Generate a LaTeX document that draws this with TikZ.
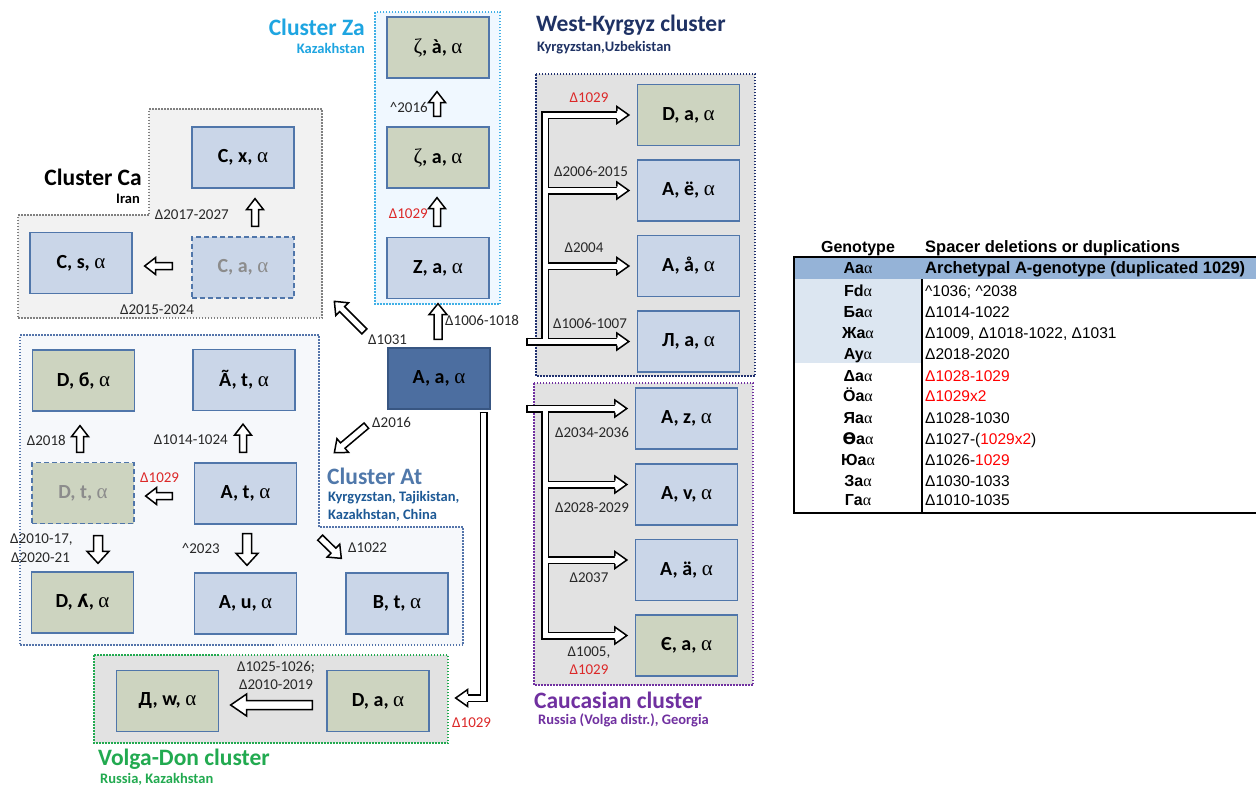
\documentclass[tikz,border=0pt]{standalone}
\usepackage{fontspec}
\setmainfont{Carlito}
\newfontfamily\arialf{Liberation Sans}
\newfontfamily\serf{Liberation Serif}
\newfontfamily\djv{DejaVu Sans}
\usetikzlibrary{calc}
\newcommand\al{{\serf\mdseries\fontsize{21}{22}\selectfont α}}
\newcommand\tal{{\serf\mdseries α}}
\newcommand\zet{{\serf\mdseries\fontsize{21}{22}\selectfont ζ}}
\newcommand\crt{\textasciicircum}
\definecolor{bluef}{RGB}{202,214,232}
\definecolor{greenf}{RGB}{205,212,192}
\definecolor{nodeb}{RGB}{80,118,170}
\definecolor{centf}{RGB}{76,110,160}
\definecolor{centb}{RGB}{56,86,130}
\definecolor{dimtext}{RGB}{140,140,140}
\definecolor{labc}{RGB}{40,40,40}
\definecolor{redl}{RGB}{220,40,40}
\definecolor{cafill}{RGB}{242,242,242}
\definecolor{caline}{RGB}{128,128,128}
\definecolor{zafill}{RGB}{240,248,255}
\definecolor{zaline}{RGB}{64,176,230}
\definecolor{atfill}{RGB}{246,248,251}
\definecolor{atline}{RGB}{84,116,170}
\definecolor{grayfill}{RGB}{226,226,226}
\definecolor{wkline}{RGB}{32,48,110}
\definecolor{ccline}{RGB}{112,48,160}
\definecolor{vdline}{RGB}{34,170,80}
\definecolor{zatitle}{RGB}{30,165,225}
\definecolor{attitle}{RGB}{80,120,170}
\definecolor{atsub}{RGB}{30,90,150}
\definecolor{wktitle}{RGB}{31,50,100}
\definecolor{tblhead}{RGB}{149,179,215}
\definecolor{tblblue}{RGB}{220,230,241}
\definecolor{tred}{RGB}{255,0,0}
% block arrow: shaft half-width, head half-width, head length, start, end
\newcommand\blockarrow[5]{%
  \draw[barrow] let \p1=(#4), \p2=(#5), \n1={atan2(\y2-\y1,\x2-\x1)}, \n2={veclen(\x2-\x1,\y2-\y1)} in
  [shift={(\p1)}, rotate=\n1] (0,-#1) -- (\n2-#3,-#1) -- (\n2-#3,-#2) -- (\n2,0) -- (\n2-#3,#2) -- (\n2-#3,#1) -- (0,#1) -- cycle;}
\newcommand\headR[1]{\filldraw[headst] (#1) ++(-12,-4) -- ++(0,-4.5) -- ++(12,8.5) -- ++(-12,8.5) -- ++(0,-4.5);}
\newcommand\headL[1]{\filldraw[headst] (#1) ++(12,-4) -- ++(0,-4.5) -- ++(-12,8.5) -- ++(12,8.5) -- ++(0,-4.5);}
\begin{document}
\begin{tikzpicture}[x=1pt,y=-1pt,
 gnode/.style={draw=nodeb, line width=1.3pt, minimum width=102pt, minimum height=61pt, inner sep=0pt, font=\fontsize{20}{22}\selectfont\bfseries},
 bbox/.style={gnode, fill=bluef},
 gbox/.style={gnode, fill=greenf},
 dbox/.style={dash pattern=on 5pt off 3pt, text=dimtext},
 cbox/.style={gnode, fill=centf, draw=centb},
 elab/.style={font=\fontsize{15}{17}\selectfont, text=labc, inner sep=0pt},
 rlab/.style={elab, text=redl},
 ctitle/.style={font=\fontsize{23.5}{25}\selectfont\bfseries, inner sep=0pt},
 csub/.style={font=\fontsize{14.5}{16}\selectfont\bfseries, inner sep=0pt},
 clus/.style={line width=1.5pt, dash pattern=on 1.5pt off 1.5pt},
 barrow/.style={draw=black, fill=white, line width=1.5pt, line join=miter},
 dline/.style={draw=black, double=white, double distance=5pt, line width=1.5pt, line join=miter},
 headst/.style={draw=black, fill=white, line width=1.5pt, line join=miter},
 tcell/.style={font=\arialf\fontsize{15.5}{17}\selectfont, inner sep=0pt, anchor=base west},
 tbold/.style={tcell, font=\arialf\fontsize{16.5}{18}\selectfont\bfseries},
 tgen/.style={font=\arialf\fontsize{16}{18}\selectfont\bfseries, inner sep=0pt, anchor=base},
]
\fill[white] (0,0) rectangle (1256,788);
\useasboundingbox (0,0) rectangle (1256,788);

% ---------- cluster backgrounds ----------
\draw[clus, draw=caline, fill=cafill] (149,109) -- (322,109) -- (322,318) -- (18,318) -- (18,215) -- (149,215) -- cycle;
\draw[clus, draw=zaline, fill=zafill] (375,12) rectangle (500,304);
\draw[clus, draw=atline, fill=atfill] (20,335) -- (319,335) -- (319,527) -- (463,527) -- (463,645) -- (20,645) -- cycle;
\draw[clus, draw=wkline, fill=grayfill] (536,74) rectangle (755,376);
\draw[clus, draw=ccline, fill=grayfill] (534,383) rectangle (753,685);
\draw[clus, draw=vdline, fill=grayfill] (94,655) rectangle (448,743);

% ---------- nodes ----------
\node[bbox] (cx) at (243,157.5) {C, x, \al};
\node[bbox] (cs) at (81,263) {C, s, \al};
\node[bbox, dbox] (ca) at (243,267.5) {C, a, \al};

\node[gbox] (zaa) at (438,47.5) {\zet, à, \al};
\node[gbox] (za) at (438,157.5) {\zet, a, \al};
\node[bbox] (Za) at (438,268) {Z, a, \al};

\node[cbox] (A) at (439,378.5) {A, a, \al};

\node[gbox] (db) at (83.5,380.5) {D, б, \al};
\node[bbox] (At) at (244,380) {Ã, t, \al};
\node[gbox, dbox] (dt) at (83,493) {D, t, \al};
\node[bbox] (at) at (245.5,493.5) {A, t, \al};
\node[gbox] (dl) at (82.5,602.5) {D, {\djv\fontsize{17.5}{19}\selectfont ʎ}, \al};
\node[bbox] (au) at (245.5,603.5) {A, u, \al};
\node[bbox] (bt) at (397,603.5) {B, t, \al};

\node[gbox] (dw) at (167.5,701) {Д, w, \al};
\node[gbox] (da) at (378,701) {D, a, \al};

\node[gbox] (wk1) at (688.5,115) {D, a, \al};
\node[bbox] (wk2) at (688.5,190.5) {A, ё, \al};
\node[bbox] (wk3) at (688.5,266) {A, å, \al};
\node[bbox] (wk4) at (688.5,341.5) {Л, a, \al};

\node[bbox] (cc1) at (686.5,418.5) {A, z, \al};
\node[bbox] (cc2) at (686.5,494.5) {A, v, \al};
\node[bbox] (cc3) at (686.5,570) {A, ä, \al};
\node[gbox] (cc4) at (686.5,645.5) {Є, a, \al};

% ---------- block arrows ----------
\blockarrow{3.5}{8.5}{11}{$(za.north)+(-1,-10)$}{$(zaa.south)+(-1,13)$}
\blockarrow{3.5}{8.5}{11}{$(Za.north)+(-1,-10.5)$}{$(za.south)+(-1,9)$}
\blockarrow{4}{9}{11}{$(A.north)+(-1,-8)$}{$(Za.south)+(0,4.5)$}
\blockarrow{3.5}{8.5}{11}{$(ca.north)+(12,-10)$}{$(cx.south)+(12,10)$}
\blockarrow{3.5}{8.5}{11}{$(ca.west)+(-19,-1.5)$}{$(cs.east)+(12,3)$}
\blockarrow{3.5}{9}{11}{$(A.north west)+(-23,-16)$}{$(A.north west)+(-53,-46)$}
\blockarrow{3.5}{9}{11}{$(A.south west)+(-21,16)$}{$(A.south west)+(-53,43)$}
\blockarrow{3.5}{8.5}{11}{$(dt.north)+(-3,-9.5)$}{$(db.south)+(-3.5,14)$}
\blockarrow{3.5}{8.5}{11}{$(at.north)+(-2.5,-10)$}{$(At.south)+(-1,13)$}
\blockarrow{3.5}{8.5}{11}{$(at.west)+(-21.5,2.5)$}{$(dt.east)+(11,3)$}
\blockarrow{4.5}{11}{12}{$(dt.south)+(15,11.5)$}{$(dl.north)+(15.5,-8)$}
\blockarrow{4.5}{11}{12}{$(at.south)+(1.5,9)$}{$(au.north)+(1.5,-7)$}
\blockarrow{3.5}{9}{11}{$(at.south east)+(23,13)$}{$(bt.north west)+(-4,-14)$}
\blockarrow{4.5}{11}{16}{$(da.west)+(-14,4)$}{$(dw.east)+(11.5,4)$}

% ---------- West-Kyrgyz tree ----------
\coordinate (wkin) at (527,341.5);
\coordinate (wkx) at (545,0);
\draw[dline] (wkin) -- ($(wk4.west)+(-20,0)$)
  (wkx |- wk4.west) -- (wkx |- wk1.west) -- ($(wk1.west)+(-20,0)$)
  (wkx |- wk2.west) -- ($(wk2.west)+(-20,0)$)
  (wkx |- wk3.west) -- ($(wk3.west)+(-20,0)$);
\draw[line width=1.5pt] ($(wkin)+(0,-4)$) -- ($(wkin)+(0,4)$);
\headR{$(wk1.west)+(-8,0)$}
\headR{$(wk2.west)+(-8,0)$}
\headR{$(wk3.west)+(-8,0)$}
\headR{$(wk4.west)+(-8,0)$}

% ---------- Caucasian tree ----------
\coordinate (ccin) at (527,408.5);
\coordinate (ccx) at (545,0);
\coordinate (cb1) at ($(cc1.west)+(-20,-10)$);
\coordinate (cb2) at ($(cc2.west)+(-20,-10)$);
\coordinate (cb3) at ($(cc3.west)+(-20,-10)$);
\coordinate (cb4) at ($(cc4.west)+(-20,-10)$);
\draw[dline] (ccin) -- (cb1)
  (ccx |- cb1) -- (ccx |- cb4) -- (cb4)
  (ccx |- cb2) -- (cb2)
  (ccx |- cb3) -- (cb3);
\draw[line width=1.5pt] ($(ccin)+(0,-4)$) -- ($(ccin)+(0,4)$);
\headR{$(cc1.west)+(-8,-10)$}
\headR{$(cc2.west)+(-8,-10)$}
\headR{$(cc3.west)+(-8,-10)$}
\headR{$(cc4.west)+(-8,-10)$}

% ---------- long arrow to Volga-Don ----------
\coordinate (vtop) at ($(A.south east)+(-7,3)$);
\coordinate (vb) at ($(da.east)+(38,-3)$);
\draw[dline] (vtop) -- (vtop |- vb) -- (vb);
\draw[line width=1.5pt] ($(vtop)+(-4,0)$) -- ($(vtop)+(4,0)$);
\headL{$(da.east)+(26,-3)$}

% ---------- labels ----------
\node[elab, anchor=east] (l1) at (229,215) {Δ2017-2027};
\node[elab] (l2) at (157,310) {Δ2015-2024};
\node[elab, anchor=east] (l3) at (428,107) {\crt2016};
\node[rlab, anchor=east] (l4) at (428,214) {Δ1029};
\node[elab, anchor=west] (l5) at (445,320) {Δ1006-1018};
\node[elab, anchor=west] (l6) at (368,340) {Δ1031};
\node[elab, anchor=west] (l7) at (372,422) {Δ2016};
\node[elab, anchor=east] (l8) at (66,440) {Δ2018};
\node[elab, anchor=east] (l9) at (228,440) {Δ1014-1024};
\node[rlab, anchor=west] (l10) at (140,478) {Δ1029};
\node[elab, anchor=west] (l11) at (10,540) {Δ2010-17,};
\node[elab, anchor=west] (l12) at (11,558) {Δ2020-21};
\node[elab, anchor=east] (l13) at (220,548) {\crt2023};
\node[elab, anchor=west] (l14) at (348,548) {Δ1022};
\node[elab] (l15) at (276,667) {Δ1025-1026;};
\node[elab] (l16) at (276,685) {Δ2010-2019};
\node[rlab, anchor=west] (l17) at (452,723) {Δ1029};
\node[rlab] (l18) at (589,98) {Δ1029};
\node[elab] (l19) at (591,171) {Δ2006-2015};
\node[elab] (l20) at (584,248) {Δ2004};
\node[elab] (l21) at (590,323) {Δ1006-1007};
\node[elab] (l22) at (592,432) {Δ2034-2036};
\node[elab] (l23) at (592,507) {Δ2028-2029};
\node[elab] (l24) at (589,578) {Δ2037};
\node[elab] (l25) at (589,653) {Δ1005,};
\node[rlab] (l26) at (589,670) {Δ1029};

% ---------- titles ----------
\node[ctitle, anchor=east] (tca) at (142,177) {Cluster Ca};
\node[csub, anchor=east] (sca) at (140,199) {Iran};
\node[ctitle, anchor=east, text=zatitle] (tza) at (365,27) {Cluster Za};
\node[csub, anchor=east, text=zatitle] (sza) at (365,48) {Kazakhstan};
\node[ctitle, anchor=west, text=attitle] (tat) at (327,476) {Cluster At};
\node[csub, anchor=west, text=atsub] (sat1) at (328,498) {Kyrgyzstan, Tajikistan,};
\node[csub, anchor=west, text=atsub] (sat2) at (328,515) {Kazakhstan, China};
\node[ctitle, anchor=west, text=wktitle] (twk) at (536,25) {West-Kyrgyz cluster};
\node[csub, anchor=west, text=wktitle] (swk) at (537,48) {Kyrgyzstan,Uzbekistan};
\node[ctitle, anchor=west, text=ccline] (tcc) at (534,700) {Caucasian cluster};
\node[csub, anchor=west, text=ccline] (scc) at (538,720) {Russia (Volga distr.), Georgia};
\node[ctitle, anchor=west, text=vdline] (tvd) at (98,759) {Volga-Don cluster};
\node[csub, anchor=west, text=vdline] (svd) at (100,779) {Russia, Kazakhstan};

% ---------- table ----------
\fill[tblhead] (794,257) rectangle (1256,279);
\fill[tblblue] (794,279) rectangle (922,363);
\draw[line width=2pt] (1256,257) -- (794,257) -- (794,513) -- (1256,513);
\draw[line width=1.5pt] (922,279) -- (922,513);
\node[tgen] (h1) at (858,252.5) {Genotype};
\node[tbold] (h2) at (925,252.5) {Spacer deletions or duplications};
\node[tgen] (g0) at (858,273.5) {Aa\tal};
\node[tbold] (s0) at (925,273.5) {Archetypal A-genotype (duplicated 1029)};
\node[tgen] (g1) at (858,296.5) {Fd\tal};
\node[tcell] (s1) at (925,296.5) {\crt1036; \crt2038};
\node[tgen] (g2) at (858,317.5) {Бa\tal};
\node[tcell] (s2) at (925,317.5) {Δ1014-1022};
\node[tgen] (g3) at (858,338.5) {Жa\tal};
\node[tcell] (s3) at (925,338.5) {Δ1009, Δ1018-1022, Δ1031};
\node[tgen] (g4) at (858,359.5) {Ay\tal};
\node[tcell] (s4) at (925,359.5) {Δ2018-2020};
\node[tgen] (g5) at (858,381.5) {Δa\tal};
\node[tcell, text=tred] (s5) at (925,381.5) {Δ1028-1029};
\node[tgen] (g6) at (858,401.5) {Öa\tal};
\node[tcell, text=tred] (s6) at (925,401.5) {Δ1029x2};
\node[tgen] (g7) at (858,423.5) {Яa\tal};
\node[tcell] (s7) at (925,423.5) {Δ1028-1030};
\node[tgen] (g8) at (858,444.5) {{\djv\bfseries Ө}a\tal};
\node[tcell] (s8) at (925,444.5) {Δ1027-(\textcolor{tred}{1029x2})};
\node[tgen] (g9) at (858,465.5) {Юa\tal};
\node[tcell] (s9) at (925,465.5) {Δ1026-\textcolor{tred}{1029}};
\node[tgen] (g10) at (858,486.5) {Зa\tal};
\node[tcell] (s10) at (925,486.5) {Δ1030-1033};
\node[tgen] (g11) at (858,505.5) {Гa\tal};
\node[tcell] (s11) at (925,505.5) {Δ1010-1035};
\end{tikzpicture}
\end{document}
